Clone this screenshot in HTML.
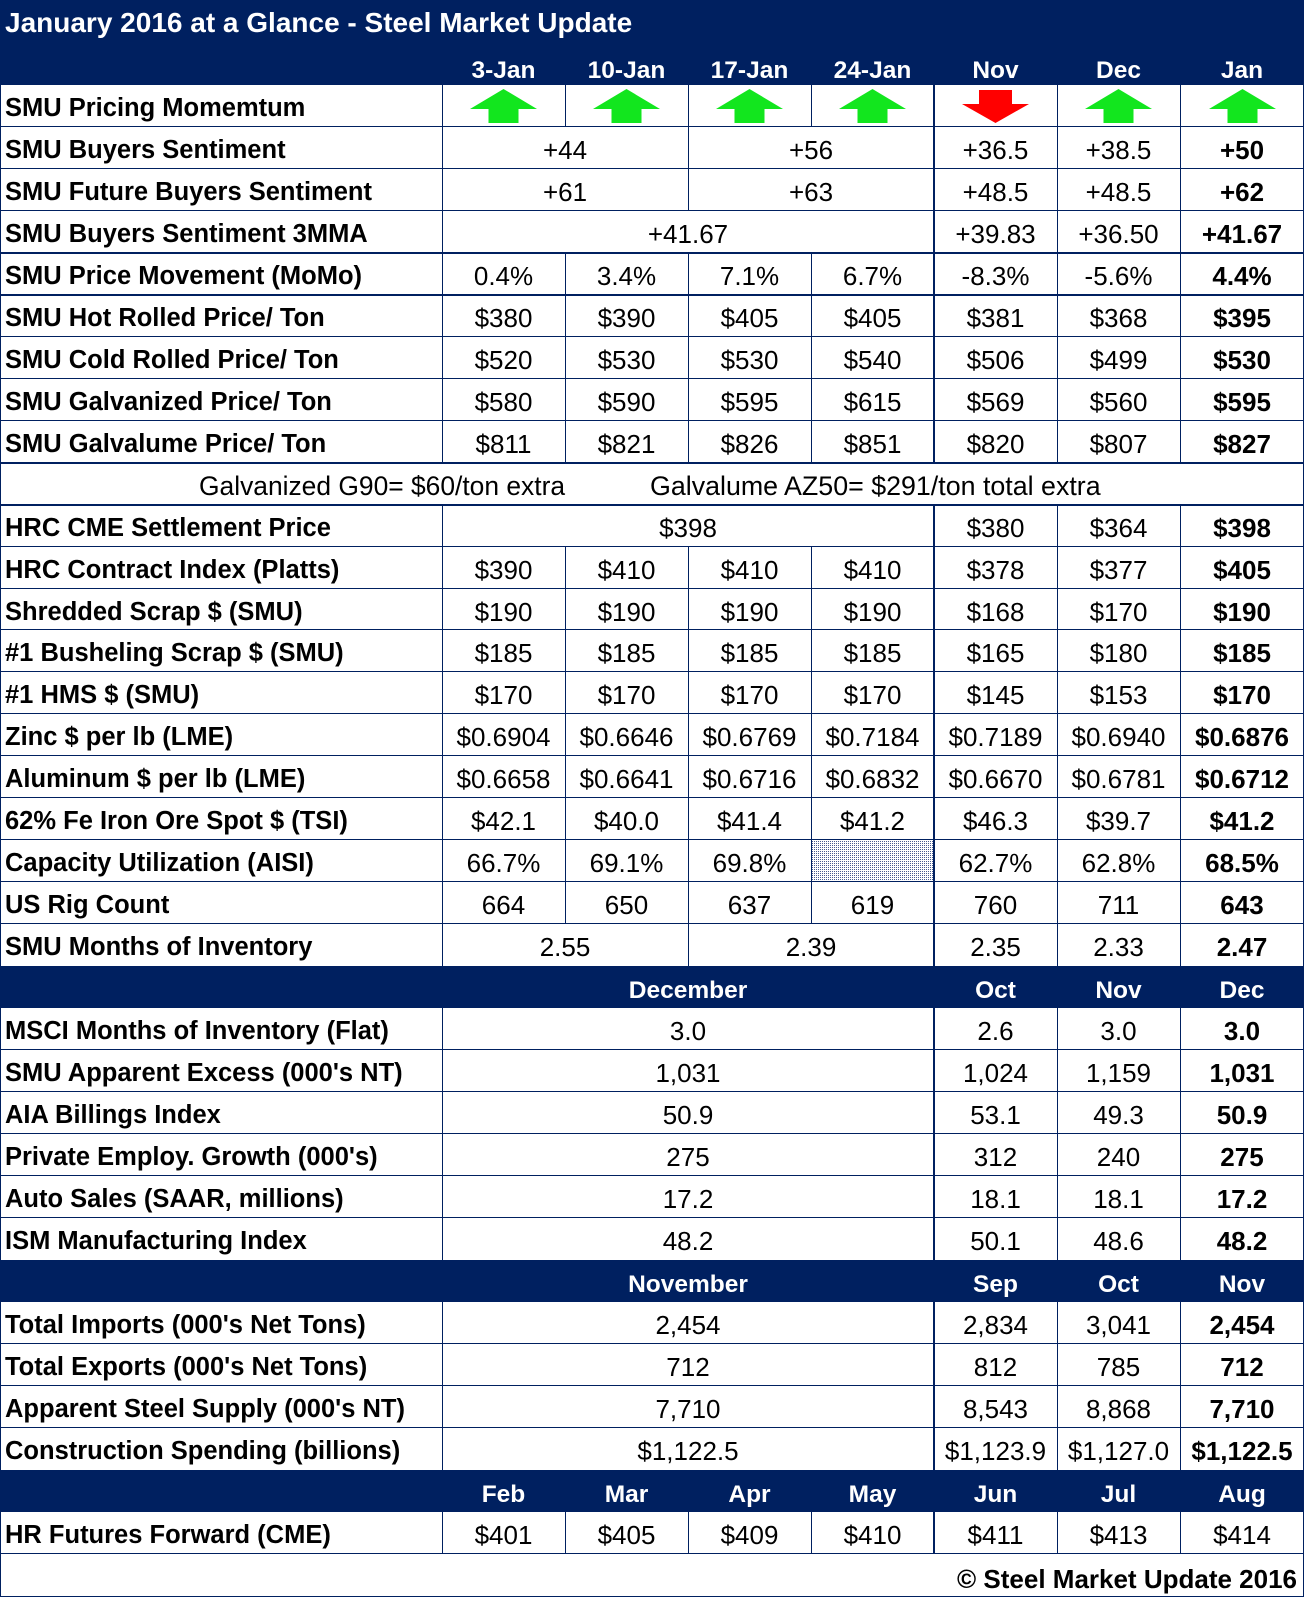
<!DOCTYPE html>
<html><head><meta charset="utf-8">
<style>
*{margin:0;padding:0;box-sizing:border-box}
body{width:1304px;height:1597px;background:#fff;position:relative;overflow:hidden;font-family:"Liberation Sans",Arial,sans-serif;color:#000}
.band{position:absolute;left:0;width:1304px;background:#002060}
.r{position:absolute;left:0;width:1304px}
.r div{position:absolute;top:0;height:100%;line-height:47px;text-align:center;font-size:26px;white-space:nowrap}
.r .a{left:0;width:442px;text-align:left;padding-left:5px;font-weight:bold;font-size:25.5px}
.c1{left:442px;width:123px}.c2{left:565px;width:123px}.c3{left:688px;width:123px}.c4{left:811px;width:123px}
.c5{left:934px;width:123px}.c6{left:1057px;width:123px}.c7{left:1180px;width:124px}
.s12{left:442px;width:246px}.s34{left:688px;width:246px}.s14{left:442px;width:492px}
.b{font-weight:bold}
.h div{color:#fff;font-weight:bold;font-size:24.5px;line-height:50px !important}
.hl{position:absolute;left:0;width:1304px;height:1px;background:#002060}
.hl.t{height:2px}
.vl{position:absolute;width:1px;background:#002060}
.vl.t{width:2px}
svg.ar{position:absolute;left:50%;margin-left:-33.5px}
</style></head><body>

<!-- top band -->
<div class="band" style="top:0;height:85px"></div>
<div style="position:absolute;left:5px;top:1px;line-height:44px;font-size:28px;font-weight:bold;color:#fff;white-space:nowrap">January 2016 at a Glance - Steel Market Update</div>
<div class="r h" style="top:46px;height:38px">
<div class="c1">3-Jan</div><div class="c2">10-Jan</div><div class="c3">17-Jan</div><div class="c4">24-Jan</div><div class="c5">Nov</div><div class="c6">Dec</div><div class="c7">Jan</div>
</div>

<!-- row 0 arrows -->
<div class="r" style="top:85px;height:42px">
<div class="a">SMU Pricing Momemtum</div>
<div class="c1"><svg class="ar" style="top:4px" width="67" height="34"><polygon points="33.5,0 67,20 48.5,20 48.5,34 18.5,34 18.5,20 0,20" fill="#12e61e"/></svg></div>
<div class="c2"><svg class="ar" style="top:4px" width="67" height="34"><polygon points="33.5,0 67,20 48.5,20 48.5,34 18.5,34 18.5,20 0,20" fill="#12e61e"/></svg></div>
<div class="c3"><svg class="ar" style="top:4px" width="67" height="34"><polygon points="33.5,0 67,20 48.5,20 48.5,34 18.5,34 18.5,20 0,20" fill="#12e61e"/></svg></div>
<div class="c4"><svg class="ar" style="top:4px" width="67" height="34"><polygon points="33.5,0 67,20 48.5,20 48.5,34 18.5,34 18.5,20 0,20" fill="#12e61e"/></svg></div>
<div class="c5"><svg class="ar" style="top:5px" width="67" height="34"><polygon points="17,0 50,0 50,14 67,14 33.5,33 0,14 17,14" fill="#ff0000"/></svg></div>
<div class="c6"><svg class="ar" style="top:4px" width="67" height="34"><polygon points="33.5,0 67,20 48.5,20 48.5,34 18.5,34 18.5,20 0,20" fill="#12e61e"/></svg></div>
<div class="c7"><svg class="ar" style="top:4px" width="67" height="34"><polygon points="33.5,0 67,20 48.5,20 48.5,34 18.5,34 18.5,20 0,20" fill="#12e61e"/></svg></div>
</div>

<div class="r" style="top:127px;height:42px"><div class="a">SMU Buyers Sentiment</div><div class="s12">+44</div><div class="s34">+56</div><div class="c5">+36.5</div><div class="c6">+38.5</div><div class="c7 b">+50</div></div>
<div class="r" style="top:169px;height:42px"><div class="a">SMU Future Buyers Sentiment</div><div class="s12">+61</div><div class="s34">+63</div><div class="c5">+48.5</div><div class="c6">+48.5</div><div class="c7 b">+62</div></div>
<div class="r" style="top:211px;height:42px"><div class="a">SMU Buyers Sentiment 3MMA</div><div class="s14">+41.67</div><div class="c5">+39.83</div><div class="c6">+36.50</div><div class="c7 b">+41.67</div></div>
<div class="r" style="top:253px;height:42px"><div class="a">SMU Price Movement (MoMo)</div><div class="c1">0.4%</div><div class="c2">3.4%</div><div class="c3">7.1%</div><div class="c4">6.7%</div><div class="c5">-8.3%</div><div class="c6">-5.6%</div><div class="c7 b">4.4%</div></div>
<div class="r" style="top:295px;height:42px"><div class="a">SMU Hot Rolled Price/ Ton</div><div class="c1">$380</div><div class="c2">$390</div><div class="c3">$405</div><div class="c4">$405</div><div class="c5">$381</div><div class="c6">$368</div><div class="c7 b">$395</div></div>
<div class="r" style="top:337px;height:42px"><div class="a">SMU Cold Rolled Price/ Ton</div><div class="c1">$520</div><div class="c2">$530</div><div class="c3">$530</div><div class="c4">$540</div><div class="c5">$506</div><div class="c6">$499</div><div class="c7 b">$530</div></div>
<div class="r" style="top:379px;height:42px"><div class="a">SMU Galvanized Price/ Ton</div><div class="c1">$580</div><div class="c2">$590</div><div class="c3">$595</div><div class="c4">$615</div><div class="c5">$569</div><div class="c6">$560</div><div class="c7 b">$595</div></div>
<div class="r" style="top:421px;height:42px"><div class="a">SMU Galvalume Price/ Ton</div><div class="c1">$811</div><div class="c2">$821</div><div class="c3">$826</div><div class="c4">$851</div><div class="c5">$820</div><div class="c6">$807</div><div class="c7 b">$827</div></div>
<div class="r" style="top:463px;height:42px"><div style="left:199px;text-align:left;font-size:26.4px">Galvanized G90= $60/ton extra</div><div style="left:650px;text-align:left;font-size:26.8px">Galvalume AZ50= $291/ton total extra</div></div>
<div class="r" style="top:505px;height:42px"><div class="a">HRC CME Settlement Price</div><div class="s14">$398</div><div class="c5">$380</div><div class="c6">$364</div><div class="c7 b">$398</div></div>
<div class="r" style="top:547px;height:42px"><div class="a">HRC Contract Index (Platts)</div><div class="c1">$390</div><div class="c2">$410</div><div class="c3">$410</div><div class="c4">$410</div><div class="c5">$378</div><div class="c6">$377</div><div class="c7 b">$405</div></div>
<div class="r" style="top:589px;height:41px"><div class="a">Shredded Scrap $ (SMU)</div><div class="c1">$190</div><div class="c2">$190</div><div class="c3">$190</div><div class="c4">$190</div><div class="c5">$168</div><div class="c6">$170</div><div class="c7 b">$190</div></div>
<div class="r" style="top:630px;height:42px"><div class="a">#1 Busheling Scrap $ (SMU)</div><div class="c1">$185</div><div class="c2">$185</div><div class="c3">$185</div><div class="c4">$185</div><div class="c5">$165</div><div class="c6">$180</div><div class="c7 b">$185</div></div>
<div class="r" style="top:672px;height:42px"><div class="a">#1 HMS $ (SMU)</div><div class="c1">$170</div><div class="c2">$170</div><div class="c3">$170</div><div class="c4">$170</div><div class="c5">$145</div><div class="c6">$153</div><div class="c7 b">$170</div></div>
<div class="r" style="top:714px;height:42px"><div class="a">Zinc $ per lb (LME)</div><div class="c1">$0.6904</div><div class="c2">$0.6646</div><div class="c3">$0.6769</div><div class="c4">$0.7184</div><div class="c5">$0.7189</div><div class="c6">$0.6940</div><div class="c7 b">$0.6876</div></div>
<div class="r" style="top:756px;height:42px"><div class="a">Aluminum $ per lb (LME)</div><div class="c1">$0.6658</div><div class="c2">$0.6641</div><div class="c3">$0.6716</div><div class="c4">$0.6832</div><div class="c5">$0.6670</div><div class="c6">$0.6781</div><div class="c7 b">$0.6712</div></div>
<div class="r" style="top:798px;height:42px"><div class="a">62% Fe Iron Ore Spot $ (TSI)</div><div class="c1">$42.1</div><div class="c2">$40.0</div><div class="c3">$41.4</div><div class="c4">$41.2</div><div class="c5">$46.3</div><div class="c6">$39.7</div><div class="c7 b">$41.2</div></div>
<div class="r" style="top:840px;height:42px"><div class="a">Capacity Utilization (AISI)</div><div class="c1">66.7%</div><div class="c2">69.1%</div><div class="c3">69.8%</div><div class="c5">62.7%</div><div class="c6">62.8%</div><div class="c7 b">68.5%</div></div>
<svg style="position:absolute;left:812px;top:841px" width="121" height="41"><defs><pattern id="dp" width="2" height="2" patternUnits="userSpaceOnUse"><rect width="1" height="1" fill="#4a5a90"/></pattern></defs><rect width="121" height="41" fill="url(#dp)"/></svg>
<div class="r" style="top:882px;height:42px"><div class="a">US Rig Count</div><div class="c1">664</div><div class="c2">650</div><div class="c3">637</div><div class="c4">619</div><div class="c5">760</div><div class="c6">711</div><div class="c7 b">643</div></div>
<div class="r" style="top:924px;height:42px"><div class="a">SMU Months of Inventory</div><div class="s12">2.55</div><div class="s34">2.39</div><div class="c5">2.35</div><div class="c6">2.33</div><div class="c7 b">2.47</div></div>

<div class="band" style="top:966px;height:42px"></div>
<div class="r h" style="top:966px;height:42px"><div class="s14">December</div><div class="c5">Oct</div><div class="c6">Nov</div><div class="c7">Dec</div></div>

<div class="r" style="top:1008px;height:42px"><div class="a">MSCI Months of Inventory (Flat)</div><div class="s14">3.0</div><div class="c5">2.6</div><div class="c6">3.0</div><div class="c7 b">3.0</div></div>
<div class="r" style="top:1050px;height:42px"><div class="a">SMU Apparent Excess (000's NT)</div><div class="s14">1,031</div><div class="c5">1,024</div><div class="c6">1,159</div><div class="c7 b">1,031</div></div>
<div class="r" style="top:1092px;height:42px"><div class="a">AIA Billings Index</div><div class="s14">50.9</div><div class="c5">53.1</div><div class="c6">49.3</div><div class="c7 b">50.9</div></div>
<div class="r" style="top:1134px;height:42px"><div class="a">Private Employ. Growth (000's)</div><div class="s14">275</div><div class="c5">312</div><div class="c6">240</div><div class="c7 b">275</div></div>
<div class="r" style="top:1176px;height:42px"><div class="a">Auto Sales (SAAR, millions)</div><div class="s14">17.2</div><div class="c5">18.1</div><div class="c6">18.1</div><div class="c7 b">17.2</div></div>
<div class="r" style="top:1218px;height:42px"><div class="a">ISM Manufacturing Index</div><div class="s14">48.2</div><div class="c5">50.1</div><div class="c6">48.6</div><div class="c7 b">48.2</div></div>

<div class="band" style="top:1260px;height:42px"></div>
<div class="r h" style="top:1260px;height:42px"><div class="s14">November</div><div class="c5">Sep</div><div class="c6">Oct</div><div class="c7">Nov</div></div>

<div class="r" style="top:1302px;height:42px"><div class="a">Total Imports (000's Net Tons)</div><div class="s14">2,454</div><div class="c5">2,834</div><div class="c6">3,041</div><div class="c7 b">2,454</div></div>
<div class="r" style="top:1344px;height:42px"><div class="a">Total Exports (000's Net Tons)</div><div class="s14">712</div><div class="c5">812</div><div class="c6">785</div><div class="c7 b">712</div></div>
<div class="r" style="top:1386px;height:42px"><div class="a">Apparent Steel Supply (000's NT)</div><div class="s14">7,710</div><div class="c5">8,543</div><div class="c6">8,868</div><div class="c7 b">7,710</div></div>
<div class="r" style="top:1428px;height:42px"><div class="a">Construction Spending (billions)</div><div class="s14">$1,122.5</div><div class="c5">$1,123.9</div><div class="c6">$1,127.0</div><div class="c7 b">$1,122.5</div></div>

<div class="band" style="top:1470px;height:42px"></div>
<div class="r h" style="top:1470px;height:42px"><div class="c1">Feb</div><div class="c2">Mar</div><div class="c3">Apr</div><div class="c4">May</div><div class="c5">Jun</div><div class="c6">Jul</div><div class="c7">Aug</div></div>

<div class="r" style="top:1512px;height:42px"><div class="a">HR Futures Forward (CME)</div><div class="c1">$401</div><div class="c2">$405</div><div class="c3">$409</div><div class="c4">$410</div><div class="c5">$411</div><div class="c6">$413</div><div class="c7">$414</div></div>
<div class="r" style="top:1554px;height:43px"><div style="right:7px;text-align:right;font-weight:bold;line-height:50px">© Steel Market Update 2016</div></div>

<!-- horizontal lines -->
<div class="hl" style="top:126px"></div>
<div class="hl" style="top:168px"></div>
<div class="hl" style="top:210px"></div>
<div class="hl t" style="top:252px"></div>
<div class="hl t" style="top:294px"></div>
<div class="hl" style="top:336px"></div>
<div class="hl" style="top:378px"></div>
<div class="hl" style="top:420px"></div>
<div class="hl t" style="top:462px"></div>
<div class="hl t" style="top:504px"></div>
<div class="hl" style="top:546px"></div>
<div class="hl" style="top:588px"></div>
<div class="hl" style="top:629px"></div>
<div class="hl" style="top:671px"></div>
<div class="hl" style="top:713px"></div>
<div class="hl" style="top:755px"></div>
<div class="hl" style="top:797px"></div>
<div class="hl" style="top:839px"></div>
<div class="hl" style="top:881px"></div>
<div class="hl" style="top:923px"></div>
<div class="hl" style="top:1049px"></div>
<div class="hl" style="top:1091px"></div>
<div class="hl" style="top:1133px"></div>
<div class="hl" style="top:1175px"></div>
<div class="hl" style="top:1217px"></div>
<div class="hl" style="top:1343px"></div>
<div class="hl" style="top:1385px"></div>
<div class="hl" style="top:1427px"></div>
<div class="hl" style="top:1553px"></div>
<div class="hl" style="top:1596px"></div>

<!-- outer borders -->
<div class="vl" style="left:0;top:85px;height:1512px"></div>
<div class="vl" style="left:1303px;top:85px;height:1512px"></div>

<!-- x=442 -->
<div class="vl" style="left:442px;top:85px;height:378px"></div>
<div class="vl" style="left:442px;top:505px;height:461px"></div>
<div class="vl" style="left:442px;top:1008px;height:252px"></div>
<div class="vl" style="left:442px;top:1302px;height:168px"></div>
<div class="vl" style="left:442px;top:1512px;height:42px"></div>
<!-- x=565 -->
<div class="vl" style="left:565px;top:85px;height:42px"></div>
<div class="vl" style="left:565px;top:253px;height:210px"></div>
<div class="vl" style="left:565px;top:547px;height:377px"></div>
<div class="vl" style="left:565px;top:1512px;height:42px"></div>
<!-- x=688 -->
<div class="vl" style="left:688px;top:85px;height:126px"></div>
<div class="vl" style="left:688px;top:253px;height:210px"></div>
<div class="vl" style="left:688px;top:547px;height:419px"></div>
<div class="vl" style="left:688px;top:1512px;height:42px"></div>
<!-- x=811 -->
<div class="vl" style="left:811px;top:85px;height:42px"></div>
<div class="vl" style="left:811px;top:253px;height:210px"></div>
<div class="vl" style="left:811px;top:547px;height:377px"></div>
<div class="vl" style="left:811px;top:1512px;height:42px"></div>
<!-- x=934 thick -->
<div class="vl t" style="left:933px;top:85px;height:378px"></div>
<div class="vl t" style="left:933px;top:505px;height:461px"></div>
<div class="vl t" style="left:933px;top:1008px;height:252px"></div>
<div class="vl t" style="left:933px;top:1302px;height:168px"></div>
<div class="vl t" style="left:933px;top:1512px;height:42px"></div>
<!-- x=1057 -->
<div class="vl" style="left:1057px;top:85px;height:378px"></div>
<div class="vl" style="left:1057px;top:505px;height:461px"></div>
<div class="vl" style="left:1057px;top:1008px;height:252px"></div>
<div class="vl" style="left:1057px;top:1302px;height:168px"></div>
<div class="vl" style="left:1057px;top:1512px;height:42px"></div>
<!-- x=1180 -->
<div class="vl" style="left:1180px;top:85px;height:378px"></div>
<div class="vl" style="left:1180px;top:505px;height:461px"></div>
<div class="vl" style="left:1180px;top:1008px;height:252px"></div>
<div class="vl" style="left:1180px;top:1302px;height:168px"></div>
<div class="vl" style="left:1180px;top:1512px;height:42px"></div>

</body></html>
